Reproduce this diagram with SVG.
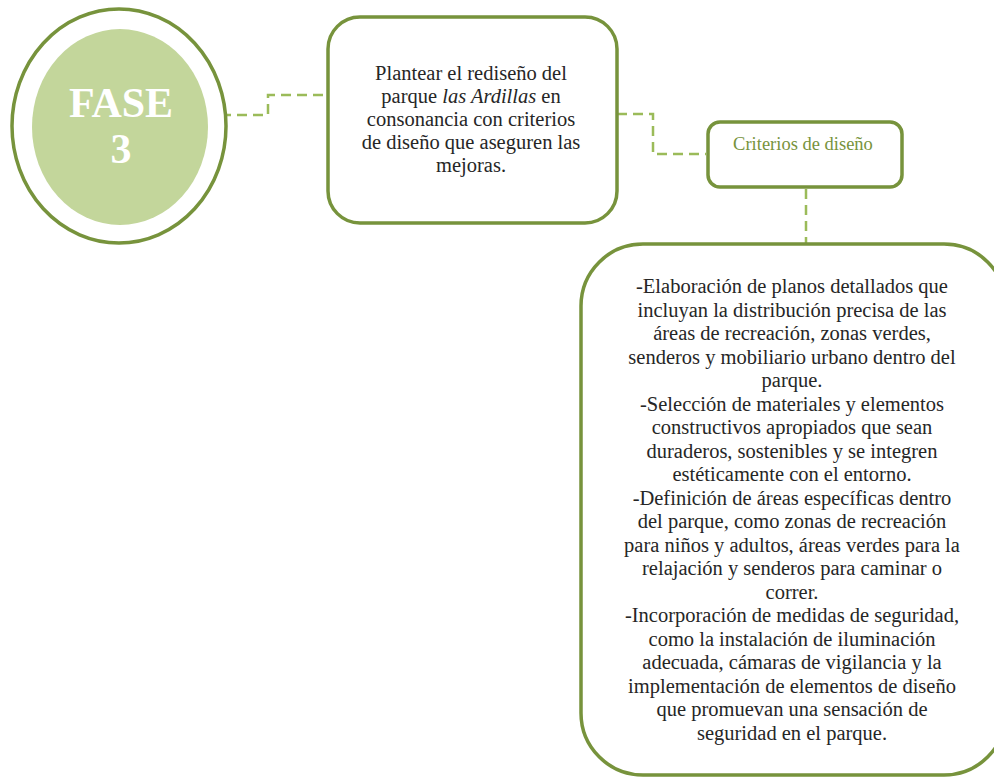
<svg xmlns="http://www.w3.org/2000/svg" width="994" height="778" viewBox="0 0 994 778">
<style>
.box{fill:#ffffff;stroke:#77933C;stroke-width:3.5}
.conn{fill:none;stroke:#9BBB59;stroke-width:2.5;stroke-dasharray:10,6}
.t{font-family:"Liberation Serif","Times New Roman",serif;font-size:20.5px;fill:#262626;text-anchor:middle}
.fase{font-family:"Liberation Serif","Times New Roman",serif;font-size:42px;font-weight:bold;fill:#ffffff;text-anchor:middle}
.crit{font-family:"Liberation Serif","Times New Roman",serif;font-size:18.5px;fill:#77933C;text-anchor:middle}
</style>
<rect width="994" height="778" fill="#ffffff"/>
<g id="connectors">
<path class="conn" d="M221,115 H268 V95 H327"/>
<path class="conn" d="M617,114 H653 V154 H706"/>
<path class="conn" d="M806,189 V246"/>
</g>
<g id="fase3">
<ellipse cx="119" cy="126" rx="107" ry="117" fill="#ffffff" stroke="#77933C" stroke-width="3.5"/>
<ellipse cx="120" cy="127" rx="88" ry="98" fill="#C3D69B"/>
<text class="fase" x="121" y="117">FASE</text>
<text class="fase" x="121" y="163">3</text>
</g>
<g id="objetivo">
<rect class="box" x="328" y="17" width="289" height="206" rx="32"/>
<text class="t" x="471" y="80">Plantear el rediseño del</text>
<text class="t" x="471" y="103">parque <tspan font-style="italic">las Ardillas</tspan> en</text>
<text class="t" x="471" y="126">consonancia con criterios</text>
<text class="t" x="471" y="149">de diseño que aseguren las</text>
<text class="t" x="471" y="172">mejoras.</text>
</g>
<g id="criterios">
<rect class="box" x="708" y="122" width="194" height="65" rx="12"/>
<text class="crit" x="803" y="150">Criterios de diseño</text>
</g>
<g id="detalle">
<rect class="box" x="581" y="244" width="425" height="531" rx="62"/>
<text class="t" x="792" y="293">-Elaboración de planos detallados que</text>
<text class="t" x="792" y="316.5">incluyan la distribución precisa de las</text>
<text class="t" x="792" y="340">áreas de recreación, zonas verdes,</text>
<text class="t" x="792" y="363.5">senderos y mobiliario urbano dentro del</text>
<text class="t" x="792" y="387">parque.</text>
<text class="t" x="792" y="410.5">-Selección de materiales y elementos</text>
<text class="t" x="792" y="434">constructivos apropiados que sean</text>
<text class="t" x="792" y="457.5">duraderos, sostenibles y se integren</text>
<text class="t" x="792" y="481">estéticamente con el entorno.</text>
<text class="t" x="792" y="504.5">-Definición de áreas específicas dentro</text>
<text class="t" x="792" y="528">del parque, como zonas de recreación</text>
<text class="t" x="792" y="551.5">para niños y adultos, áreas verdes para la</text>
<text class="t" x="792" y="575">relajación y senderos para caminar o</text>
<text class="t" x="792" y="598.5">correr.</text>
<text class="t" x="792" y="622">-Incorporación de medidas de seguridad,</text>
<text class="t" x="792" y="645.5">como la instalación de iluminación</text>
<text class="t" x="792" y="669">adecuada, cámaras de vigilancia y la</text>
<text class="t" x="792" y="692.5">implementación de elementos de diseño</text>
<text class="t" x="792" y="716">que promuevan una sensación de</text>
<text class="t" x="792" y="739.5">seguridad en el parque.</text>
</g>
</svg>
